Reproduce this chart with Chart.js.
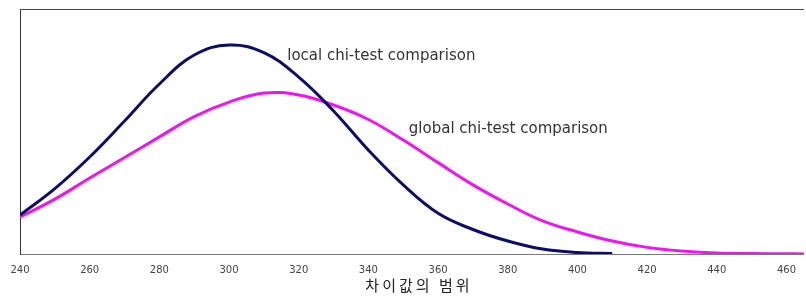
<!DOCTYPE html>
<html>
<head>
<meta charset="utf-8">
<script src="https://cdn.jsdelivr.net/npm/chart.js@4/dist/chart.umd.min.js"></script>
<style>
  html, body { margin: 0; padding: 0; background: #fff; }
  #wrap { width: 806px; height: 296px; }
</style>
</head>
<body>
<div id="wrap"><canvas id="chart" width="806" height="296"></canvas></div>
<script>
// 차이값 범위별 분포 곡선 (local / global chi-test)

const xValues = [240, 250, 260, 270, 280, 290, 300, 310, 320, 330, 340, 350,
  360, 370, 380, 390, 400, 410, 420, 430, 440, 450, 460, 465];

const localValues = [0.159, 0.267, 0.396, 0.543, 0.694, 0.812, 0.853, 0.822,
  0.722, 0.584, 0.424, 0.282, 0.166, 0.100, 0.053, 0.020, 0.006, 0.002];

const globalValues = [0.151, 0.224, 0.310, 0.394, 0.478, 0.561, 0.620, 0.657,
  0.649, 0.608, 0.549, 0.465, 0.373, 0.282, 0.204, 0.135, 0.090, 0.053,
  0.027, 0.012, 0.004, 0.002, 0.001, 0.0];

const xTicks = [240, 260, 280, 300, 320, 340, 360, 380, 400, 420, 440, 460];

const seriesNames = ['local chi-test comparison', 'global chi-test comparison'];
const axisTitle = '차이값의 범위';

// 곡선 옆 텍스트 라벨 + 축 제목
const curveLabels = {
  id: 'curveLabels',
  afterDatasetsDraw(chart) {
    const { ctx, scales, chartArea } = chart;
    const x = scales.x, y = scales.y;
    ctx.save();
    ctx.font = '15px "DejaVu Sans"';
    ctx.fillStyle = '#333';
    ctx.textAlign = 'left';
    ctx.textBaseline = 'middle';
    ctx.fillText(seriesNames[0], x.getPixelForValue(316.7), y.getPixelForValue(0.808));
    ctx.fillText(seriesNames[1], x.getPixelForValue(351.6), y.getPixelForValue(0.51));

    // 축 제목 (글자 간격 넓게)
    ctx.font = '15px "Noto Sans CJK KR"';
    ctx.fillStyle = '#222';
    ctx.letterSpacing = '3px';
    ctx.textAlign = 'center';
    ctx.fillText(axisTitle, (chartArea.left + chartArea.right) / 2 + 7, chartArea.bottom + 31);
    ctx.restore();
  }
};

// 위쪽 테두리
const topFrame = {
  id: 'topFrame',
  beforeDatasetsDraw(chart) {
    const { ctx, chartArea } = chart;
    ctx.save();
    ctx.strokeStyle = '#444';
    ctx.lineWidth = 1;
    ctx.beginPath();
    ctx.moveTo(chartArea.left, chartArea.top + 0.5);
    ctx.lineTo(chartArea.right, chartArea.top + 0.5);
    ctx.stroke();
    ctx.restore();
  }
};

new Chart(document.getElementById('chart').getContext('2d'), {
  type: 'line',
  data: {
    datasets: [
      {
        label: seriesNames[0],
        data: localValues.map((v, i) => ({ x: xValues[i], y: v })),
        borderColor: '#0c0c6c',
        borderWidth: 3,
        pointRadius: 0,
        tension: 0.4,
        fill: false
      },
      {
        label: seriesNames[1],
        data: globalValues.map((v, i) => ({ x: xValues[i], y: v })),
        borderColor: '#f014f0',
        borderWidth: 3,
        pointRadius: 0,
        tension: 0.4,
        fill: false
      }
    ]
  },
  options: {
    responsive: false,
    animation: false,
    layout: { padding: { left: 20, right: 0, top: 9, bottom: 10 } },
    plugins: {
      legend: { display: false },
      tooltip: { enabled: false }
    },
    scales: {
      x: {
        type: 'linear',
        min: 240,
        max: 465,
        afterBuildTicks(scale) {
          scale.ticks = xTicks.map(v => ({ value: v }));
        },
        ticks: {
          padding: 10,
          color: '#444',
          font: { family: 'DejaVu Sans', size: 10 },
          maxRotation: 0,
          autoSkip: false
        },
        grid: { display: false, drawTicks: false },
        border: { display: true, color: '#777', width: 1 }
      },
      y: {
        min: 0,
        max: 1,
        ticks: { display: false },
        grid: { display: false, drawTicks: false },
        border: { display: true, color: '#333', width: 1 }
      }
    }
  },
  plugins: [topFrame, curveLabels]
});
</script>
</body>
</html>
